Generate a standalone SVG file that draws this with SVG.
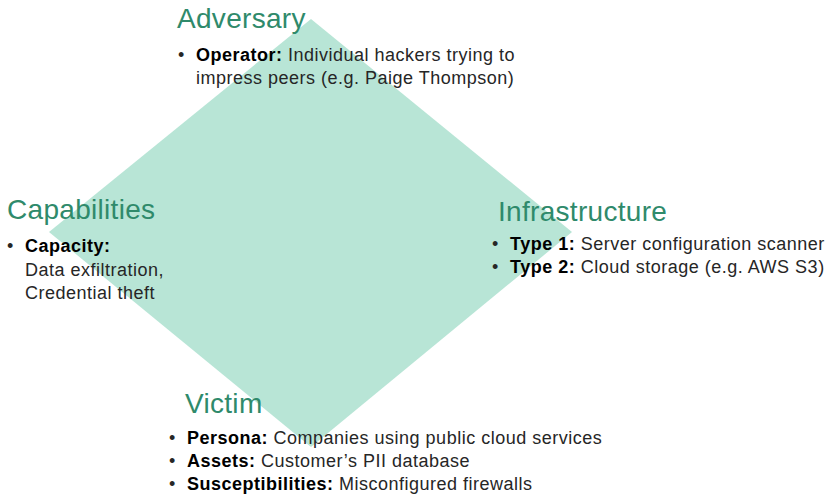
<svg xmlns="http://www.w3.org/2000/svg" width="833" height="502" viewBox="0 0 833 502">
<style>
.title{font-family:"Liberation Sans",Arial,sans-serif;font-size:28px;fill:#2f8a6b;letter-spacing:0.3px}
.body{font-family:"Liberation Sans",Arial,sans-serif;font-size:18px;fill:#262626;letter-spacing:0.5px}
.b{font-weight:bold;fill:#000}
</style>
<rect width="833" height="502" fill="#ffffff"/>
<g id="diamond">
<polygon points="311,19 572,232 311,447 49,232" fill="#b8e5d6"/>
</g>
<g id="adversary">
<text class="title" x="177" y="28">Adversary</text>
<text class="body" x="178" y="61">•</text>
<text class="body" x="196" y="61"><tspan class="b">Operator:</tspan> Individual hackers trying to</text>
<text class="body" x="196" y="84">impress peers (e.g. Paige Thompson)</text>
</g>
<g id="capabilities">
<text class="title" x="7" y="219">Capabilities</text>
<text class="body" x="7" y="252">•</text>
<text class="body" x="25" y="252"><tspan class="b">Capacity:</tspan></text>
<text class="body" x="25" y="276">Data exfiltration,</text>
<text class="body" x="25" y="299">Credential theft</text>
</g>
<g id="infrastructure">
<text class="title" x="498" y="221">Infrastructure</text>
<text class="body" x="492" y="250">•</text>
<text class="body" x="510" y="250"><tspan class="b">Type 1:</tspan> Server configuration scanner</text>
<text class="body" x="492" y="273">•</text>
<text class="body" x="510" y="273"><tspan class="b">Type 2:</tspan> Cloud storage (e.g. AWS S3)</text>
</g>
<g id="victim">
<text class="title" x="185" y="413">Victim</text>
<text class="body" x="169" y="444">•</text>
<text class="body" x="187" y="444"><tspan class="b">Persona:</tspan> Companies using public cloud services</text>
<text class="body" x="169" y="467">•</text>
<text class="body" x="187" y="467"><tspan class="b">Assets:</tspan> Customer’s PII database</text>
<text class="body" x="169" y="490">•</text>
<text class="body" x="187" y="490"><tspan class="b">Susceptibilities:</tspan> Misconfigured firewalls</text>
</g>
</svg>
